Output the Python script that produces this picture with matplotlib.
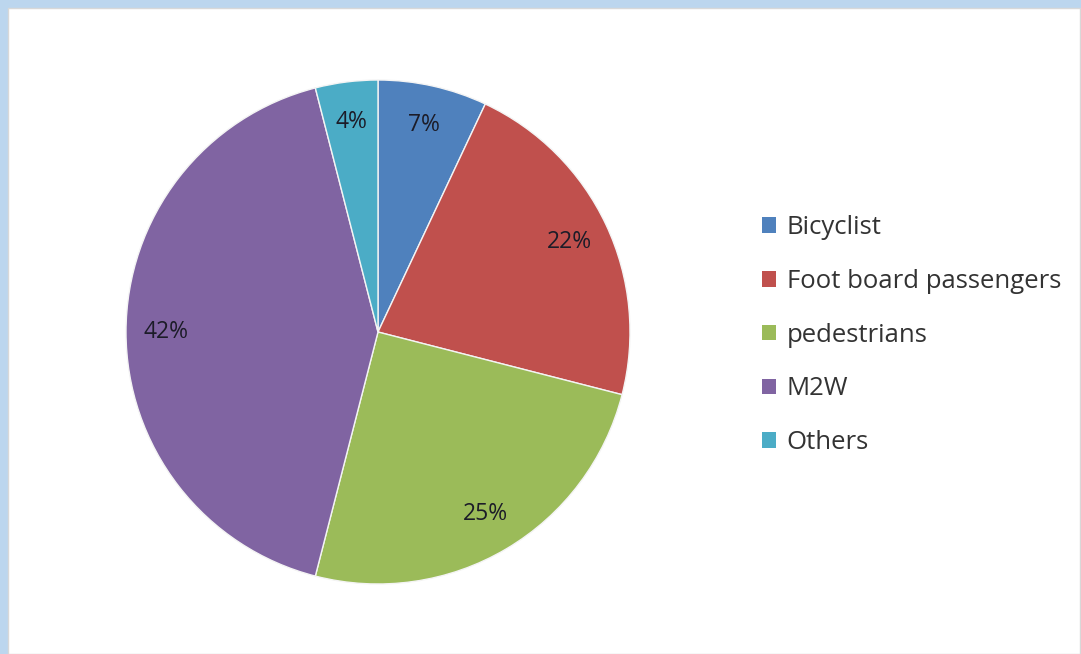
import matplotlib
matplotlib.use("Agg")
import matplotlib.pyplot as plt
from matplotlib.patches import Rectangle

categories = ["Bicyclist", "Foot board passengers", "pedestrians", "M2W", "Others"]
values = [7, 22, 25, 42, 4]
colors = ["#4F81BD", "#C0504D", "#9BBB59", "#8064A2", "#4BACC6"]

plt.rcParams['font.family'] = ['Open Sans', 'DejaVu Sans']

W, H = 1081, 654
fig = plt.figure(figsize=(W / 100, H / 100), dpi=100)
fig.patch.set_facecolor("#bcd6ee")
# inner white panel
fig.patches.append(Rectangle((8 / W, 0), (W - 9) / W, (H - 8) / H, transform=fig.transFigure,
                             facecolor="white", edgecolor="#d8d8d8", linewidth=1.0, zorder=-5))

cx, cy, r = 378, 332, 252
ax = fig.add_axes([(cx - r) / W, (H - cy - r) / H, 2 * r / W, 2 * r / H], zorder=2)
ax.patch.set_alpha(0)
wedges, texts, autotexts = ax.pie(values, colors=colors, startangle=90, counterclock=False,
                                  autopct=lambda p: f"{p:.0f}%", pctdistance=0.84,
                                  wedgeprops=dict(edgecolor="#f4f4f4", linewidth=1.0),
                                  textprops=dict(fontsize=16.5, color="#1c1c28"))
ax.set_xlim(-1, 1)
ax.set_ylim(-1, 1)
ax.set_aspect("equal")
ax.axis("off")

leg = fig.legend(wedges, categories, loc="upper left",
                 bbox_to_anchor=(739 / W, 1 - 192 / H), frameon=False,
                 fontsize=18.5, handlelength=0.55, handleheight=0.55, handletextpad=0.4,
                 labelspacing=1.12, labelcolor="#333333")
for h in leg.legend_handles:
    h.set_edgecolor("none")

fig.savefig("out.png", dpi=100)
